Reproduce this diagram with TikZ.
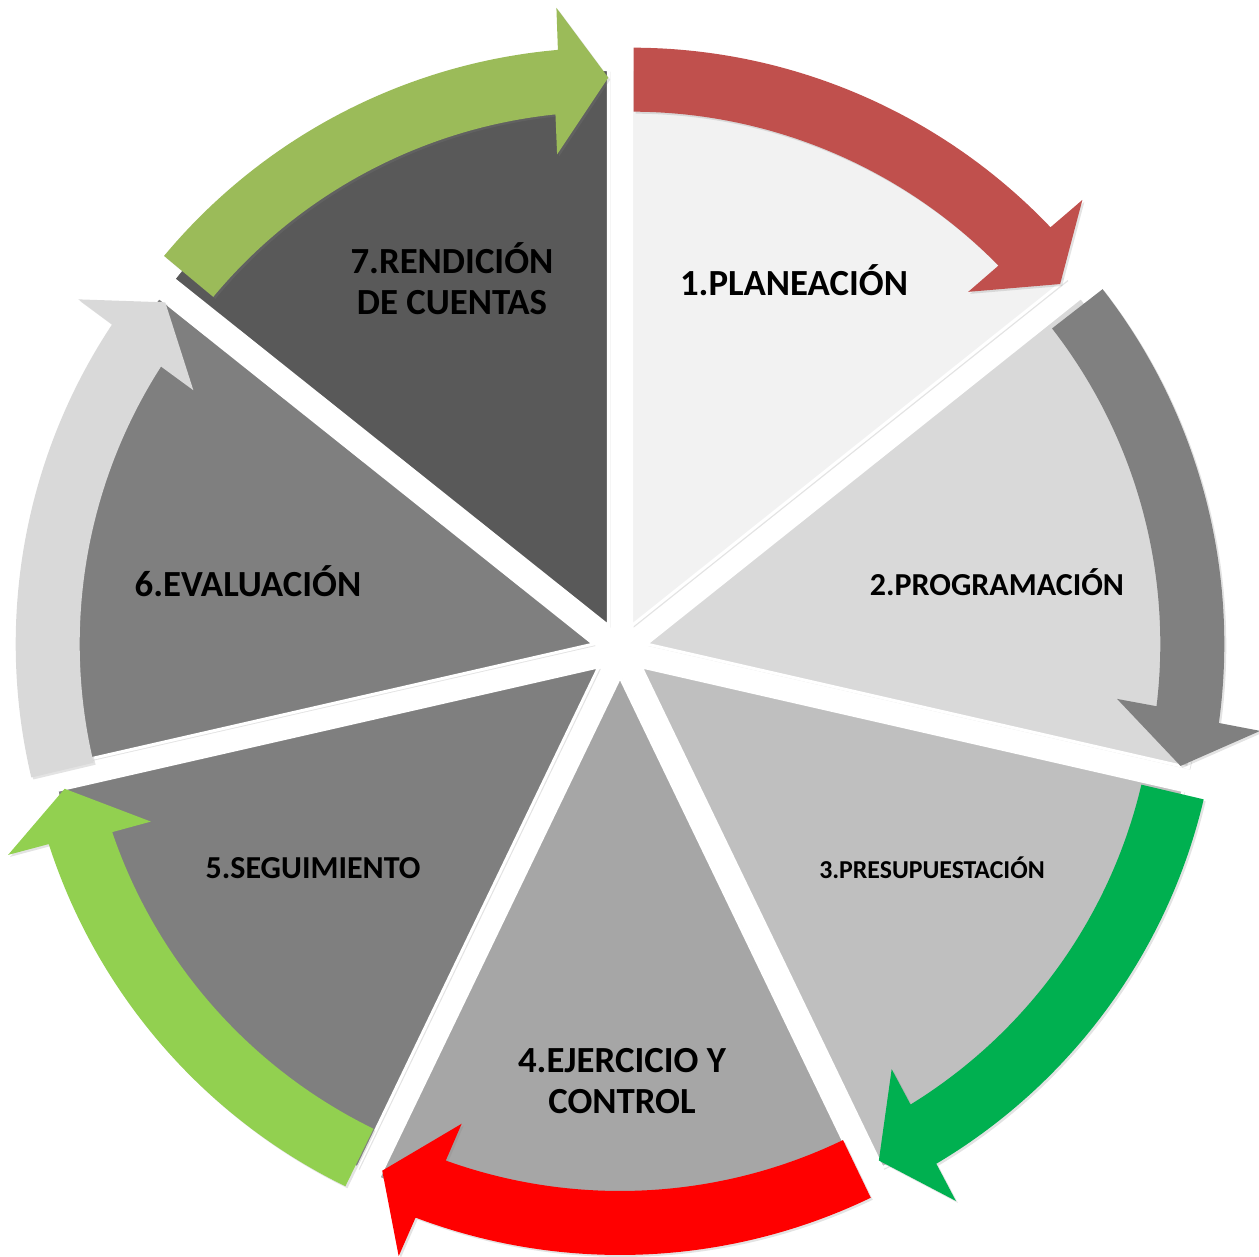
\documentclass[tikz,border=0pt]{standalone}
\usepackage{fontspec}
\setmainfont{Carlito}
\usetikzlibrary{shadows}

\definecolor{sliceone}{HTML}{F2F2F2}
\definecolor{slicetwo}{HTML}{D9D9D9}
\definecolor{slicethree}{HTML}{BFBFBF}
\definecolor{slicefour}{HTML}{A6A6A6}
\definecolor{slicefive}{HTML}{7F7F7F}
\definecolor{slicesix}{HTML}{7F7F7F}
\definecolor{sliceseven}{HTML}{595959}
\definecolor{arrowone}{HTML}{C0504D}
\definecolor{arrowtwo}{HTML}{808080}
\definecolor{arrowthree}{HTML}{00B050}
\definecolor{arrowfour}{HTML}{FF0000}
\definecolor{arrowfive}{HTML}{92D050}
\definecolor{arrowsix}{HTML}{D9D9D9}
\definecolor{arrowseven}{HTML}{9BBB59}

\begin{document}
\begin{tikzpicture}[x=0.5pt, y=0.5pt,
    softshadow/.style={drop shadow={opacity=0.22, shadow xshift=1pt, shadow yshift=-1pt}},
    stagetext/.style={text=black, align=center, inner sep=0pt},
    bigtext/.style={stagetext, font=\bfseries\fontsize{18.4}{20.5}\selectfont},
    midtext/.style={stagetext, font=\bfseries\fontsize{16}{18}\selectfont},
    smalltext/.style={stagetext, font=\bfseries\fontsize{12.9}{14.5}\selectfont}]
    \def\gap{27}
    \def\R{556}
    \def\rin{514}
    \def\rout{578}
    \def\hin{474}
    \def\hout{620}
    \useasboundingbox (-620,-607) rectangle (639,650);

    % Slices
    \foreach \k/\col in {1/sliceone, 2/slicetwo, 3/slicethree, 4/slicefour,
                         5/slicefive, 6/slicesix, 7/sliceseven} {
        \pgfmathsetmacro\a{90-(\k-1)*360/7}
        \pgfmathsetmacro\b{\a-360/7}
        \pgfmathsetmacro\m{\a-180/7}
        \begin{scope}[shift={(\m:\gap)}]
            \filldraw[fill=\col, draw=white, line width=1.5, softshadow]
                (0,0) -- (\a:\R) arc[start angle=\a, end angle=\b, radius=\R] -- cycle;
        \end{scope}
    }

    % Arrows round the slices
    \foreach \k/\col/\ds in {1/arrowone/0.2, 2/arrowtwo/0.7, 3/arrowthree/0.4, 4/arrowfour/0,
                             5/arrowfive/0.3, 6/arrowsix/-0.5, 7/arrowseven/1.2} {
        \pgfmathsetmacro\a{90-(\k-1)*360/7}
        \pgfmathsetmacro\b{\a-360/7}
        \pgfmathsetmacro\m{\a-180/7}
        \pgfmathsetmacro\s{\a-\ds}
        \begin{scope}[shift={(\m:\gap)}]
            \fill[\col, softshadow]
                (\s:\rin) arc[start angle=\s, end angle=\b+5.9, radius=\rin]
                -- (\b+6.2:\hin) -- (\b:548) -- (\b+4.8:\hout) -- (\b+5.0:\rout)
                arc[start angle=\b+5.0, end angle=\s, radius=\rout] -- cycle;
        \end{scope}
    }

    % Labels
    \node[bigtext] (planeacion) at (174,370) {1.PLANEACIÓN};
    \node[midtext] (programacion) at (377,68) {2.PROGRAMACIÓN};
    \node[smalltext] (presupuestacion) at (312,-218) {3.PRESUPUESTACIÓN};
    \node[bigtext] (ejercicio) at (2,-431) {4.EJERCICIO Y\\CONTROL};
    \node[midtext] (seguimiento) at (-307,-218) {5.SEGUIMIENTO};
    \node[bigtext] (evaluacion) at (-372,69) {6.EVALUACIÓN};
    \node[bigtext] (rendicion) at (-168,371) {7.RENDICIÓN\\DE CUENTAS};

\end{tikzpicture}
\end{document}
